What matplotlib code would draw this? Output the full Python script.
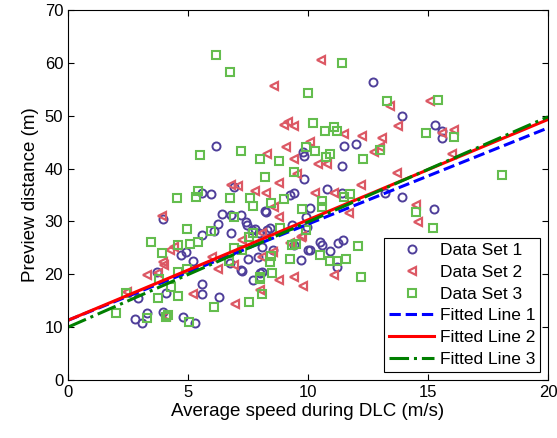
import matplotlib
matplotlib.use('Agg')
import matplotlib.pyplot as plt
import numpy as np

plt.rcParams['font.family'] = ['Liberation Sans', 'DejaVu Sans']

# ============================================================
# Data (speed m/s, preview distance m)
# ============================================================
set1_x = [6.15, 9.8, 9.85, 9.85, 6.9, 5.6, 5.95, 9.25, 9.4, 12.7, 13.9, 15.3, 15.6, 15.6,
          11.5, 12.0, 11.4, 10.8, 11.4, 13.2, 13.9, 15.25, 10.1, 9.9, 10.5, 10.6, 11.25,
          11.45, 10.1, 10.9, 11.2, 9.7, 6.4, 6.8, 7.2, 6.25, 6.8, 7.4, 7.45, 7.8, 8.25, 8.2,
          3.95, 5.6, 4.7, 4.9, 5.2, 3.7, 4.1, 5.6, 5.6, 6.3, 2.9, 2.8, 3.1, 3.3, 3.95, 4.8,
          5.3, 7.2, 7.25, 6.75, 7.5, 7.9, 7.7, 8.0, 8.1, 8.1, 8.55, 9.4, 9.95, 10.0, 9.35,
          8.4, 8.3, 7.95, 7.65, 6.1]
set1_y = [44.3, 43.1, 42.4, 38.0, 36.5, 35.4, 35.2, 35.0, 35.3, 56.4, 49.9, 48.2, 47.1, 45.8,
          44.3, 44.6, 40.5, 36.1, 35.4, 35.4, 34.6, 32.3, 32.5, 30.8, 26.1, 25.5, 25.9,
          26.5, 24.6, 24.4, 21.4, 22.7, 31.4, 31.2, 31.2, 29.5, 27.8, 29.9, 29.3, 28.6, 31.8, 32.0,
          30.5, 27.5, 23.7, 24.2, 22.5, 20.4, 16.4, 18.2, 16.3, 15.7, 15.5, 11.5, 10.8, 12.7, 12.9, 11.9,
          10.8, 20.8, 20.6, 22.1, 22.9, 23.3, 18.9, 20.2, 20.4, 25.2, 24.6, 25.6, 28.9, 24.6, 29.3,
          28.7, 28.4, 27.8, 28.4, 28.2]

set2_x = [8.6, 9.0, 9.15, 9.4, 8.3, 9.1, 9.4, 9.55, 8.8, 6.8, 7.1, 7.8, 8.25, 10.55, 13.4,
          15.1, 11.5, 12.25, 13.1, 13.75, 15.6, 16.1, 10.1, 12.75, 13.0, 10.4, 10.8, 16.0,
          13.7, 12.2, 10.3, 11.1, 14.5, 14.6, 11.7, 9.75, 11.1, 9.8, 8.6, 8.8, 3.9, 4.25, 4.4,
          3.95, 4.0, 3.75, 3.3, 5.2, 2.45, 4.1, 6.95, 6.25, 6.0, 6.9, 7.25, 8.0, 8.1, 8.55,
          8.8, 9.4, 9.25, 9.7, 8.1]
set2_y = [55.6, 48.2, 48.8, 48.0, 42.8, 44.1, 41.8, 38.9, 37.3, 36.9, 36.7, 35.8, 35.4, 60.5, 51.8,
          52.8, 46.5, 46.2, 45.8, 48.1, 46.7, 47.3, 45.0, 43.1, 44.1, 40.9, 40.9, 42.8,
          39.1, 36.9, 35.4, 35.4, 33.1, 29.9, 31.6, 27.2, 19.9, 17.8, 32.7, 30.8, 31.0, 24.6, 25.2,
          22.3, 21.8, 20.2, 19.9, 16.3, 16.6, 12.2, 14.4, 21.0, 23.2, 21.8, 26.5, 17.0, 23.3, 24.2,
          18.9, 19.5, 25.9, 27.1, 27.8]

set3_x = [6.17, 6.75, 10.0, 10.2, 5.5, 7.2, 8.0, 8.8, 9.9, 9.4, 8.2, 5.4, 5.35, 4.55, 6.75,
          7.6, 9.0, 11.4, 13.3, 15.4, 10.7, 11.1, 11.2, 14.9, 16.1, 10.3, 10.9, 10.75, 13.0,
          12.3, 18.1, 11.5, 11.75, 10.6, 10.6, 14.5, 15.2, 9.9, 12.1, 10.5, 10.9, 11.2, 11.6,
          12.2, 7.7, 8.45, 6.9, 4.96, 5.95, 3.45, 4.6, 5.1, 5.4, 3.9, 4.6, 4.95, 3.8, 4.3, 3.75,
          4.6, 6.1, 2.4, 2.0, 3.3, 4.1, 4.15, 5.05, 7.55, 6.7, 6.9, 7.25, 7.55, 7.7, 8.0, 8.0,
          8.1, 8.45, 8.4, 8.5, 9.25, 9.35, 9.5, 8.85, 9.75]
set3_y = [61.5, 58.3, 54.3, 48.6, 42.5, 43.3, 41.9, 41.4, 44.1, 39.4, 38.4, 35.8, 34.6, 34.4, 34.4,
          34.4, 34.3, 60.0, 52.8, 53.0, 47.1, 47.9, 47.1, 46.8, 45.9, 43.3, 42.8, 42.1, 43.5,
          41.9, 38.8, 34.6, 35.1, 33.8, 32.7, 31.8, 28.8, 28.4, 25.3, 23.6, 22.5, 22.5, 22.9,
          19.5, 32.9, 33.4, 30.9, 28.6, 28.2, 26.1, 25.5, 25.7, 26.1, 24.0, 20.4, 21.0, 19.1, 17.6, 15.5,
          15.9, 13.8, 16.4, 12.7, 11.7, 11.9, 12.3, 11.0, 14.8, 22.5, 25.0, 24.6, 27.1, 27.8, 19.1, 19.5,
          16.3, 23.5, 22.3, 20.2, 22.9, 25.5, 25.7, 28.7, 32.3]

# fitted lines: (intercept, slope)
fit1 = (11.3, 1.82)
fit2 = (11.3, 1.90)
fit3 = (10.0, 1.99)

fig = plt.figure(figsize=(5.57, 4.38), dpi=100)
ax = fig.add_axes([0.1221, 0.1324, 0.8618, 0.8447])

ax.plot(set1_x, set1_y, 'o', ms=5.8, mfc='none', mec='#4f3f9a', mew=1.4, label='Data Set 1')
ax.plot(set2_x, set2_y, '<', ms=6, mfc='none', mec='#dc5864', mew=1.6, label='Data Set 2')
ax.plot(set3_x, set3_y, 's', ms=5.6, mfc='none', mec='#64bd4e', mew=1.5, label='Data Set 3')

xf = np.array([0, 20])
ax.plot(xf, fit1[0] + fit1[1] * xf, '--', color='#0000ff', lw=2.2, label='Fitted Line 1')
ax.plot(xf, fit2[0] + fit2[1] * xf, '-', color='#ff0000', lw=2.2, label='Fitted Line 2')
ax.plot(xf, fit3[0] + fit3[1] * xf, '-.', color='#007f00', lw=2.2, label='Fitted Line 3')

ax.set_xlim(0, 20)
ax.set_ylim(0, 70)
ax.set_xticks(np.arange(0, 21, 5))
ax.set_yticks(np.arange(0, 71, 10))
ax.tick_params(direction='in', top=True, right=True, labelsize=12, length=4)
ax.set_xlabel('Average speed during DLC (m/s)', fontsize=13.5, labelpad=2)
ax.set_ylabel('Preview distance (m)', fontsize=13.5, labelpad=4)

leg = ax.legend(loc='lower right', fontsize=12.5, fancybox=False, framealpha=1,
                edgecolor='k', borderaxespad=0.45, handlelength=2.6,
                handletextpad=0.3, labelspacing=0.38, borderpad=0.3)
leg.get_frame().set_linewidth(0.8)

fig.savefig('out.png', dpi=100)
